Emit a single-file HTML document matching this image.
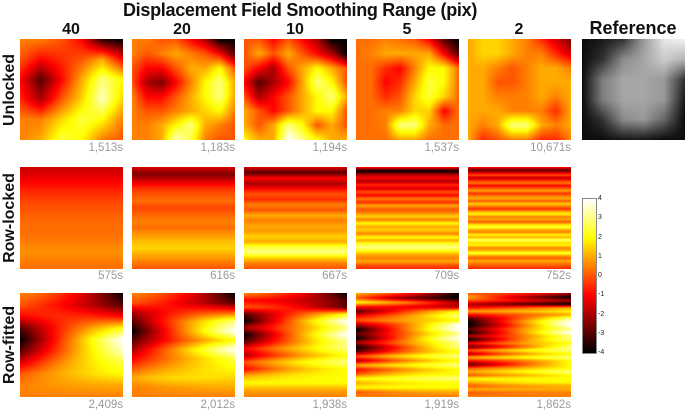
<!DOCTYPE html>
<html><head><meta charset="utf-8">
<style>
body{margin:0;background:#fff;}
#root{position:relative;width:685px;height:415px;overflow:hidden;background:#fff;font-family:"Liberation Sans",sans-serif;}
.t{position:absolute;white-space:nowrap;}
.title{font-weight:bold;font-size:18px;color:#111;transform:translateX(-50%);letter-spacing:-0.3px;}
.hdr{font-weight:bold;font-size:16px;color:#111;transform:translateX(-50%);}
.rowlab{font-weight:bold;font-size:16px;color:#111;transform:translate(-50%,-50%) rotate(-90deg);}
.time{font-size:11.5px;color:#9a9a9a;transform:translateX(-100%);}
.cb{font-size:7px;color:#222;}
canvas{position:absolute;}
</style></head>
<body>
<div id="root">
<div class="t title" style="left:300px;top:0px;">Displacement Field Smoothing Range (pix)</div>
<div class="t hdr" style="left:71px;top:21px">40</div>
<div class="t hdr" style="left:182px;top:21px">20</div>
<div class="t hdr" style="left:295px;top:21px">10</div>
<div class="t hdr" style="left:407px;top:21px">5</div>
<div class="t hdr" style="left:519px;top:21px">2</div>
<div class="t hdr" style="left:633px;top:18px;font-size:18px">Reference</div>
<div class="t rowlab" style="left:10px;top:90px">Unlocked</div>
<div class="t rowlab" style="left:10px;top:218px">Row-locked</div>
<div class="t rowlab" style="left:10px;top:345px">Row-fitted</div>
</div>
<script>
// ---- data ----
const columns = ["40","20","10","5","2"];
const unlockedTimes = ["1,513s","1,183s","1,194s","1,537s","10,671s"];
const lockedTimes = ["575s","616s","667s","709s","752s"];
const fittedTimes = ["2,409s","2,012s","1,938s","1,919s","1,862s"];
const cbTicks = [4,3,2,1,0,-1,-2,-3,-4];

const u40 = [[0.5,0.5,0,-1,-3.5,-4],[0,-1,-0.5,0,1,-1],[-1,-3,-1,1,3,2],[-0.5,-2,0,1.5,3.5,1.5],[0.5,0.5,1.5,2.5,2,0.5],[0.5,1,2.5,2,0.5,0]];
const u20 = [[0.5,0.5,0,0,-1,-2,-4,-4],[0.5,0,0.5,1,0.5,0,-1,-3],[0,-1,-1,0,1,1,2,0],[0,-2,-2.5,-1,0.5,2,3,1],[0.5,-1,-1,0,1,2,3,1],[0.5,0,0,0.5,1,1.5,2,0.5],[0.5,0.5,1,2,3,1,0.5,0],[0.5,0.5,1,3.5,2.5,0.5,0,0]];
const u10 = [[0,0,-1,0,-1,-2,-4,-4],[0,1,0,1,0,-1,-2,-4],[0,-1,-2,0,1,2,1,0],[-1,-3,-2,-1,1,3,2,0],[0,-2,-1,0,1,2,3,1],[1,0,-1,0,1,2,2,0],[1,0,1,3,2,0,1,0],[2,1,1,4,3,2,1,1]];
const u5 = [[0.3,0.3,0.5,0.3,0,-1,-3,-4],[0.3,0.5,1,1,1,1,-1,-3],[0.3,0.3,-0.5,-1,0.5,2,2,0.3],[0.3,0.3,-1,-0.5,1,2.5,2,0.3],[0.3,0.3,-0.5,0,1.5,2.5,1.5,0.3],[0.3,0.3,0.5,0.5,1.5,1.5,-1,0.3],[0.3,0.3,0.5,3,3,1,0.3,0.3],[0.3,0.3,0.3,1,1,0.3,0.3,0.3]];
const u2 = [[1,1.5,1.5,1,0.5,-0.5,-1.5,-2.5],[1,1.5,1.5,1,0.5,0.5,-0.5,-1.5],[1,1,0.5,0,0.5,1,1,0.5],[1,1,0,0,0.5,1,1,1],[1,1,0.5,0.5,0.5,1,0.5,1],[1,1,1,0.5,0.5,0.5,-0.5,1],[1,0.5,1,3,3,1,0.5,1],[1,-0.5,0,0.5,0.5,-0.5,-0.5,0.5]];
const refGray = [[0.05,0.1,0.2,0.6,0.9,0.95],[0.05,0.2,0.55,0.65,0.8,0.7],[0.05,0.5,0.65,0.65,0.6,0.2],[0.05,0.5,0.65,0.65,0.6,0.1],[0.05,0.2,0.55,0.6,0.4,0.05],[0.05,0.05,0.1,0.1,0.05,0.05]];

const rl40 = [-1.6,-1.3,-0.9,-0.5,-0.2,0,0.2,0.3,0.3,0.5,0.7,0.5,0.3];
const rl20 = [-1.5,-2.5,-1.5,-0.5,0,0.3,-0.2,0.2,0.5,0.3,0.8,1.2,1.5,1.0,0.5,0];
const rl10 = [-1.5,-3,-1,-2,-1,0,-0.5,0.5,0,1,0.5,1,0.8,1.5,1,2.5,3,1.5,0.5,0];
const rl5 = [-1,-4,-2,-1,-2,-0.5,-1.5,0,-1,0.5,-0.5,1,0,0.5,1.5,0.5,2,1,1.5,0.5,2,1,2.5,3,2,1,0.5,1,0,-0.5];
const rl2 = [-1,-3,-1.5,0,-2,-0.5,0.5,-1,0,1,-0.5,0.5,1,0,1.5,0.5,-0.5,1,2,0.5,1,0,1.5,2.5,1,0.5,2,1,3,1.5,2,0.5,1,2.5,1,0,1,0.5,0,-0.5];

const rf40L = [0.5,0,-1,-3,-4,-3,-1.5,0,0.5,0.5];
const rf40M = [0,-1,0,0.5,1,1,1.5,1.5,1,0.5];
const rf40R = [-4,-3,-1,2,4,3.5,2.5,2,1,0.5];
const rf20L = [0.5,0,-2,-3,-4,-3,-2,-1,0,1,0.5,0.5];
const rf20M = [0,-1,0,1,1,0.5,1.5,1,1.5,2,1,0.5];
const rf20R = [-4,-3,0,3,4,2,4,2.5,2,1.5,1,0.5];
const rf10L = [0.5,-1,0,-3,-4,-2,-4,-3,-1,-2,0,-1,1,2,1,0.5];
const rf10M = [0,-1,-0.5,0,1,0.5,1,1,1.5,1,2,1.5,2,2,1,0.5];
const rf10R = [-4,-3,-3,2,4,3,4,3,3,2,3,2,2,2,1,0.5];
const rf5L = [1,0,2,-1,-3,-1,0,-2,-4,-3,-4,-2,-4,-3,0,-2,1,-1,0,2,1,2,0,0.5];
const rf5M = [0,-3,1,-1,0,0.5,1,0,1,0.5,1,1,0.5,1,2,1,2,1,2,2.5,2,2,1,0.5];
const rf5R = [-4,-4,-2,-2,2,3,2,4,4,3,4,3,3,2,3,2,3,2,2,3,2,2,1,0.5];
const rf2L = [0,1,0,-2,-1,1,-1,-3,-4,-4,-3,-4,-2,-4,-1,-3,0,-2,1,-1,-3,0,1,0,2,1,0,1,0,0.5];
const rf2M = [0,-2,-1,-3,0,1,0,0,1,0,1,1,0,1,1,0,2,1,2,0,0,1,2,1,2,2,1,1,0.5,0.5];
const rf2R = [-2,-4,-2,-4,1,2,1,3,4,4,3,4,3,3,2,3,3,2,3,2,2,2,3,2,2,2,1,1,0.5,0.5];

// ---- layout ----
const colX = [20,132,244,356,468];
const refX = 582;
const panelW = 103;
const rowY = [39,167,293];
const panelH = [101,102,104];
const vmin = -4, vmax = 4;

function hot(v){
  let t = (v - vmin)/(vmax - vmin); t = Math.max(0,Math.min(1,t));
  const r = Math.min(1,t/0.375), g = Math.max(0,Math.min(1,(t-0.375)/0.375)), b = Math.max(0,Math.min(1,(t-0.75)/0.25));
  return [r*255,g*255,b*255];
}
function lerpArr(a, f){
  const p = f*(a.length-1), i = Math.floor(p), j = Math.min(a.length-1,i+1), w = p-i;
  return a[i]*(1-w)+a[j]*w;
}
function gridVal(g, fx, fy){
  const py = fy*(g.length-1), i = Math.floor(py), j = Math.min(g.length-1,i+1), w = py-i;
  return lerpArr(g[i],fx)*(1-w) + lerpArr(g[j],fx)*w;
}
const root = document.getElementById('root');
function makePanel(x,y,w,h,name,fn,gray){
  const c = document.createElement('canvas');
  c.width = w; c.height = h;
  c.style.left = x+'px'; c.style.top = y+'px';
  
  
  const ctx = c.getContext('2d');
  const img = ctx.createImageData(w,h);
  for(let py=0;py<h;py++){
    for(let px=0;px<w;px++){
      const v = fn(px/(w-1), py/(h-1));
      let col;
      if(gray){ const s = Math.max(0,Math.min(1,v))*255; col=[s,s,s]; } else col = hot(v);
      const k = (py*w+px)*4;
      img.data[k]=col[0]; img.data[k+1]=col[1]; img.data[k+2]=col[2]; img.data[k+3]=255;
    }
  }
  ctx.putImageData(img,0,0);
  root.appendChild(c);
}
function addTime(x,y,txt,name){
  const d = document.createElement('div');
  d.className = 't time';
  d.style.left = x+'px'; d.style.top = y+'px';
  d.textContent = txt;
  
  
  root.appendChild(d);
}

const unlocked = [u40,u20,u10,u5,u2];
const locked = [rl40,rl20,rl10,rl5,rl2];
const fitted = [[rf40L,rf40M,rf40R],[rf20L,rf20M,rf20R],[rf10L,rf10M,rf10R],[rf5L,rf5M,rf5R],[rf2L,rf2M,rf2R]];

columns.forEach((c,i)=>{
  const x = colX[i];
  makePanel(x,rowY[0],panelW,panelH[0],'unlocked-heatmap-'+c,(fx,fy)=>gridVal(unlocked[i],fx,fy));
  addTime(x+panelW, rowY[0]+panelH[0]+2, unlockedTimes[i], 'unlocked-time-'+c);
  makePanel(x,rowY[1],panelW,panelH[1],'row-locked-heatmap-'+c,(fx,fy)=>lerpArr(locked[i],fy));
  addTime(x+panelW, rowY[1]+panelH[1]+1, lockedTimes[i], 'row-locked-time-'+c);
  const [L,M,R] = fitted[i];
  makePanel(x,rowY[2],panelW,panelH[2],'row-fitted-heatmap-'+c,(fx,fy)=>{
    const l=lerpArr(L,fy), m=lerpArr(M,fy), r=lerpArr(R,fy);
    return l*(1-fx)*(1-fx) + 2*m*fx*(1-fx) + r*fx*fx;
  });
  addTime(x+panelW, rowY[2]+panelH[2]+2, fittedTimes[i], 'row-fitted-time-'+c);
});
makePanel(refX,rowY[0],panelW,panelH[0],'reference-image',(fx,fy)=>gridVal(refGray,fx,fy),true);

// colorbar
const cbX = 583, cbY = 199, cbW = 13, cbH = 154;
makePanel(cbX,cbY,cbW,cbH,'colorbar',(fx,fy)=>vmax - fy*(vmax-vmin));
const border = document.createElement('div');
border.style.cssText = 'position:absolute;left:'+(cbX-1)+'px;top:'+(cbY-1)+'px;width:'+cbW+'px;height:'+cbH+'px;border:1px solid #888;';


root.appendChild(border);
cbTicks.forEach(v=>{
  const y = cbY + (vmax - v)/(vmax-vmin)*cbH;
  const d = document.createElement('div');
  d.className = 't cb';
  d.style.left = (cbX+cbW+2)+'px'; d.style.top = (y-4)+'px';
  d.textContent = String(v);
  
  
  root.appendChild(d);
});
</script>
</body></html>
